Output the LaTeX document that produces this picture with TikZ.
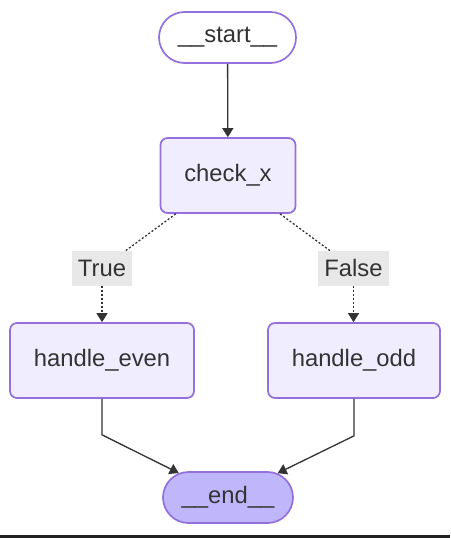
\documentclass[tikz,border=0pt]{standalone}
\usepackage{fontspec}
\setmainfont{Liberation Sans}
\usetikzlibrary{arrows.meta,shapes.misc}
\definecolor{nodefill}{HTML}{EFEDFF}
\definecolor{nodeline}{HTML}{9370DB}
\definecolor{endfill}{HTML}{BFB6FC}
\definecolor{edgecol}{HTML}{333333}
\definecolor{lblfill}{HTML}{E8E8E8}
\definecolor{barcol}{HTML}{222222}
\begin{document}
\begin{tikzpicture}[x=1pt,y=-1pt,
  txt/.style={font=\fontsize{23.8}{28}\selectfont, text=edgecol},
  box/.style={txt, draw=nodeline, fill=nodefill, line width=1.7pt, rounded corners=7pt, inner sep=0pt, minimum height=75pt},
  pill/.style={txt, rounded rectangle, draw=nodeline, line width=1.7pt, inner sep=0pt, minimum height=51pt},
  lbl/.style={txt, fill=lblfill, inner sep=0pt, minimum height=35pt},
  conn/.style={draw=edgecol, line width=1.3pt},
  arr/.style={conn, -{Triangle[length=9pt,width=11pt]}},
  dotline/.style={conn, dash pattern=on 2pt off 2pt},
  dotarr/.style={arr, dash pattern=on 2pt off 2pt}]
\useasboundingbox (0,0) rectangle (450,538);
\fill[barcol] (0,535) rectangle (450,538);

\node[pill, fill=white, minimum width=137pt] (start) at (227.5,37.5) {\_\_start\_\_};
\node[box, minimum width=135pt] (check) at (228,175.5) {check\_x};
\node[box, minimum width=184pt] (even) at (102,360.5) {handle\_even};
\node[box, minimum width=172pt] (odd) at (354,360.5) {handle\_odd};
\node[pill, fill=endfill, minimum width=130pt] (end) at (228,497.5) {\_\_end\_\_};

\draw[dotline] (check) -- (102,268);
\draw[dotline] (check) -- (353.5,268);
\node[lbl, minimum width=60pt] (t) at (102,268) {True};
\node[lbl, minimum width=71pt] (f) at (353.5,268) {False};

\draw[arr] (start) -- (check);
\draw[dotarr] (t) -- (even);
\draw[dotarr] (f.south) -- (f.south |- odd.north);
\draw[arr] (even.south) -- ++(0,36) -- (end);
\draw[arr] (odd.south) -- ++(0,37) -- (end);
\end{tikzpicture}
\end{document}
